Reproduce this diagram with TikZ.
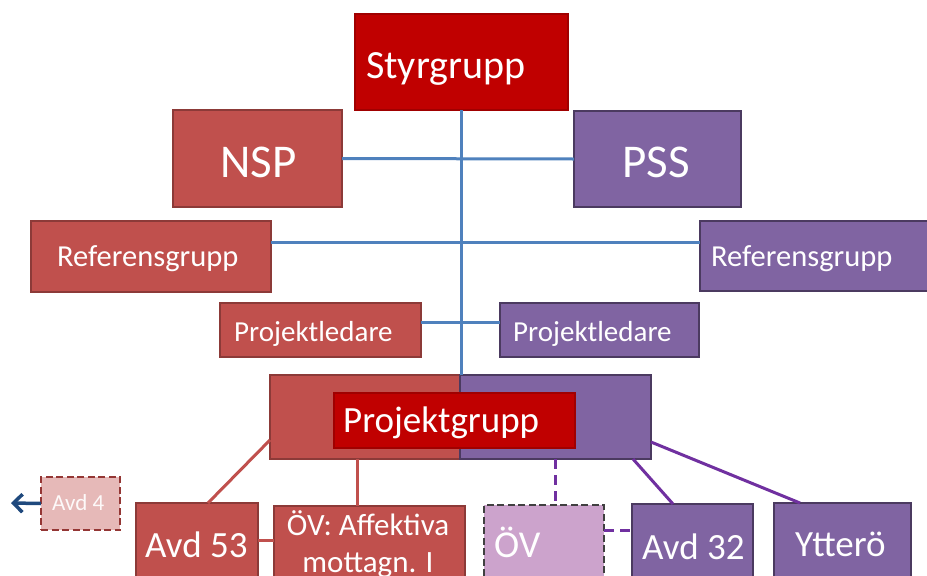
\documentclass[tikz,border=0pt]{standalone}
\usepackage{fontspec}
\setmainfont{Carlito}
\usetikzlibrary{arrows.meta,calc}
\definecolor{dred}{HTML}{C00000}
\definecolor{dredb}{HTML}{A00000}
\definecolor{ared}{HTML}{C0504D}
\definecolor{aredb}{HTML}{8C3A38}
\definecolor{apur}{HTML}{8064A2}
\definecolor{apurb}{HTML}{4B3A60}
\definecolor{lpink}{HTML}{E6B9B8}
\definecolor{lpinkb}{HTML}{943634}
\definecolor{lpur}{HTML}{CCA3CC}
\definecolor{lpurb}{HTML}{404040}
\definecolor{lblue}{HTML}{4F81BD}
\definecolor{lvio}{HTML}{7030A0}
\definecolor{navy}{HTML}{1F497D}
\tikzset{
  box/.style={draw, rectangle, inner sep=0pt, outer sep=0pt, line width=1.2pt},
  redbox/.style={box, fill=ared, draw=aredb},
  purbox/.style={box, fill=apur, draw=apurb},
  dredbox/.style={box, fill=dred, draw=dredb},
  dashbox/.style={box, line width=1.5pt, dash pattern=on 7pt off 3.5pt},
  txt/.style={text=white, inner sep=0pt, anchor=base west},
  fs/.style={font=\fontsize{#1}{#1}\selectfont},
  blueline/.style={draw=lblue, line width=3pt},
  redline/.style={draw=ared, line width=3pt},
  violine/.style={draw=lvio, line width=3pt},
}
\begin{document}
\begin{tikzpicture}[x=1pt,y=-1pt]
\useasboundingbox (0,0) rectangle (927,576);
\clip (0,0) rectangle (927,576);
% boxes
\node[dredbox, minimum width=213, minimum height=96] (sty) at (461.5,62) {};
\node[redbox, minimum width=169, minimum height=97] (nsp) at (257.5,158.5) {};
\node[purbox, minimum width=167, minimum height=96] (pss) at (657.5,159) {};
\node[redbox, minimum width=240, minimum height=71] (refL) at (151,256.5) {};
\node[purbox, minimum width=240, minimum height=70] (refR) at (820,256) {};
\node[redbox, minimum width=201, minimum height=54] (plL) at (320.5,330) {};
\node[purbox, minimum width=199, minimum height=54] (plR) at (599.5,330) {};
\node[redbox, minimum width=190, minimum height=84] (pgL) at (365,417) {};
\node[purbox, minimum width=191, minimum height=84] (pgR) at (555.5,417) {};
\node[dredbox, minimum width=241, minimum height=55] (pg) at (454.5,420.5) {};
\node[dashbox, fill=lpink, draw=lpinkb, minimum width=79, minimum height=53] (avd4) at (80.5,503.5) {};
\node[redbox, minimum width=122, minimum height=97] (avd53) at (197,551.5) {};
\node[redbox, minimum width=191, minimum height=94] (ov1) at (369.5,553) {};
\node[dashbox, fill=lpur, draw=lpurb, minimum width=120, minimum height=95] (ov2) at (544,552.5) {};
\node[purbox, minimum width=121, minimum height=96] (avd32) at (692.5,552) {};
\node[purbox, minimum width=137, minimum height=97] (ytt) at (842.5,551.5) {};
% texts
\node[txt, fs=40] (tsty) at (366,78) {Styrgrupp};
\node[txt, fs=47] (tnsp) at (220,177) {NSP};
\node[txt, fs=47] (tpss) at (622,177) {PSS};
\node[txt, fs=30.5] (trefL) at (57,266) {Referensgrupp};
\node[txt, fs=30.5] (trefR) at (711,266) {Referensgrupp};
\node[txt, fs=29] (tplL) at (234,341) {Projektledare};
\node[txt, fs=29] (tplR) at (513,341) {Projektledare};
\node[txt, fs=37] (tpg) at (343,432) {Projektgrupp};
\node[txt, fs=23, text=white!92!lpink] (tavd4) at (52,510) {Avd 4};
\node[txt, fs=37] (tavd53) at (145,557) {Avd 53};
\node[txt, fs=31, anchor=base] (tov1a) at (368,535) {ÖV: Affektiva};
\node[txt, fs=31, anchor=base] (tov1b) at (368,572) {mottagn. I};
\node[txt, fs=38] (tov2) at (494,557) {ÖV};
\node[txt, fs=37] (tavd32) at (642,559) {Avd 32};
\node[txt, fs=37] (tytt) at (795,556) {Ytterö};
% connectors
\draw[blueline] (sty.south) -- (sty.south |- pgL.north);
\draw[blueline] (nsp.east) -- (pss.west);
\draw[blueline] (refL.east |- 0,242) -- (refR.west |- 0,242);
\draw[blueline] (plL.east |- 0,322) -- (plR.west |- 0,322);
\draw[redline] (pgL.west |- 0,440) -- (avd53.north -| 208,0);
\draw[redline] (pgL.south -| 357,0) -- (ov1.north -| 357,0);
\draw[redline] (avd53.east |- 0,540) -- (ov1.west |- 0,540);
\coordinate (arrowend) at (11,503);
\draw[draw=navy, line width=3.5pt, -{Straight Barb[length=9pt,width=18pt]}] (avd4.west) -- (arrowend);
\draw[violine, dash pattern=on 10pt off 6pt] (pgR.south -| 555,0) -- (ov2.north -| 555,0);
\draw[violine, dash pattern=on 10pt off 6pt] (ov2.east |- 0,530) -- (avd32.west |- 0,530);
\draw[violine] (pgR.south -| 633,0) -- (avd32.north -| 673,0);
\draw[violine] (pgR.east |- 0,442) -- (ytt.north -| 800,0);
\end{tikzpicture}
\end{document}
